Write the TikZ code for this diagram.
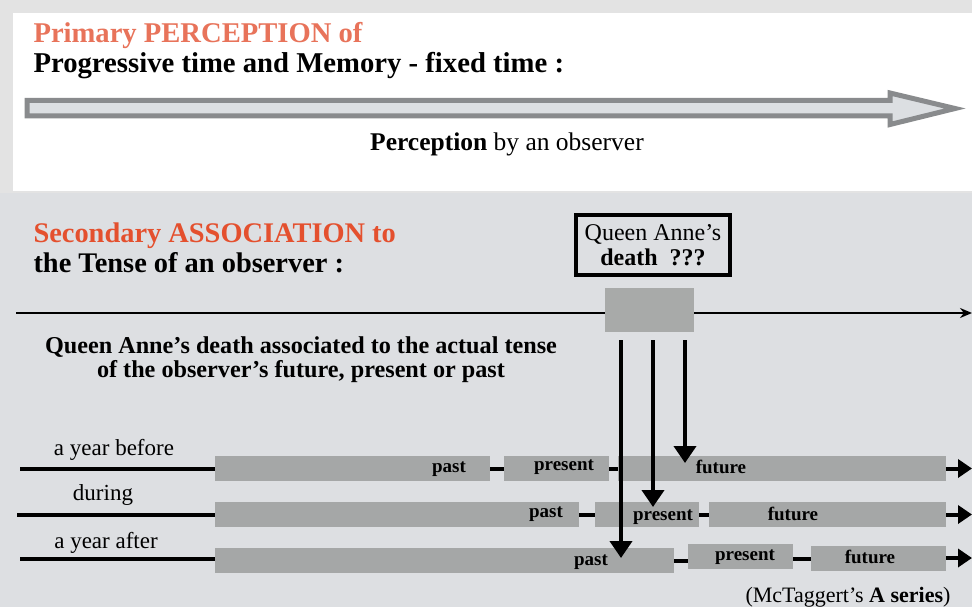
\documentclass[tikz,border=0pt]{standalone}
\usepackage{fontspec}
\setmainfont{Liberation Serif}
\usetikzlibrary{arrows.meta}
\definecolor{tp}{HTML}{E8735A}
\definecolor{ts}{HTML}{E4502E}
\definecolor{bg}{HTML}{DDDFE2}
\definecolor{fr}{HTML}{E3E3E3}
\definecolor{br}{HTML}{A5A7A7}
\definecolor{ev}{HTML}{A8AAA9}
\definecolor{ao}{HTML}{898B8D}
\definecolor{af}{HTML}{DCDFE2}
\newcommand{\fs}[1]{\fontsize{#1}{#1}\selectfont}

\begin{document}
\begin{tikzpicture}[x=1pt,y=-1pt,
    bar/.style={fill=br,minimum height=25pt,inner sep=0pt,anchor=west},
    link/.style={line width=4pt},
    lbl/.style={font=\fs{19}\bfseries,anchor=base},
    row/.style={font=\fs{23},anchor=base},
    down/.style={line width=4pt,-{Triangle[length=17pt,width=22pt]}},
    fwd/.style={line width=4pt,-{Triangle[length=14pt,width=18pt]}}]
  \useasboundingbox (0,0) rectangle (972,607);
  % panels
  \fill[fr] (0,0) rectangle (972,193);
  \fill[white] (13,13) rectangle (972,191);
  \fill[bg] (0,193) rectangle (972,607);
  % primary perception
  \node[anchor=base west,text=tp,font=\fs{28.6}\bfseries] (t1) at (30,43) {Primary PERCEPTION of};
  \node[anchor=base west,font=\fs{28.7}\bfseries] (t2) at (30,73) {Progressive time and Memory - fixed time :};
  \draw[ao,fill=af,line width=5pt] (27,100.5) -- (890,100.5) -- (890,93) -- (955,108.5)
    -- (890,124.5) -- (890,116) -- (27,116) -- cycle;
  \node[anchor=base,font=\fs{25.5}] (obs) at (507,150) {\textbf{Perception} by an observer};
  % secondary association
  \node[anchor=base west,text=ts,font=\fs{28.4}\bfseries] (t3) at (30,242) {Secondary ASSOCIATION to};
  \node[anchor=base west,font=\fs{28.4}\bfseries] (t4) at (30,272) {the Tense of an observer :};
  \node[draw,line width=4pt,minimum width=154pt,minimum height=60pt,align=center,font=\fs{24}] (qa) at (653,245)
    {Queen Anne’s\\[1pt]\textbf{death\ \ ???}};
  \coordinate (l0) at (16,313);
  \coordinate (l1) at (972,313);
  \draw[line width=2pt,-{Stealth[length=12pt,width=10pt]}] (l0) -- (l1);
  \node[fill=ev,minimum width=89pt,minimum height=44pt,inner sep=0pt] (ev) at (649.5,310) {};
  \node[align=center,font=\fs{24.2}\bfseries] (as) at (301,360)
    {Queen Anne’s death associated to the actual tense\\of the observer’s future, present or past};
  % rows
  \node[row] (r1) at (114,455) {a year before};
  \node[row] (r2) at (103,500) {during};
  \node[row] (r3) at (106,548) {a year after};
  \node[bar,minimum width=275pt] (pa1) at (215,468.5) {};
  \node[bar,minimum width=105pt] (pr1) at (504,468.5) {};
  \node[bar,minimum width=328pt] (fu1) at (618,468.5) {};
  \node[bar,minimum width=364pt] (pa2) at (215,514.5) {};
  \node[bar,minimum width=104pt] (pr2) at (595,514.5) {};
  \node[bar,minimum width=237pt] (fu2) at (709,514.5) {};
  \node[bar,minimum width=459pt] (pa3) at (215,560.5) {};
  \node[bar,minimum width=105pt] (pr3) at (688,556) {};
  \node[bar,minimum width=135pt] (fu3) at (811,558.5) {};
  \coordinate (s1) at (20,468.5);
  \coordinate (s2) at (17,514.5);
  \coordinate (s3) at (20,559);
  \draw[link] (s1) -- (pa1.west);
  \draw[link] (s2) -- (pa2.west);
  \draw[link] (s3) -- (s3 -| pa3.west);
  \draw[link] (pa1.east) -- (pr1.west);
  \draw[link] (pr1.east) -- (fu1.west);
  \draw[link] (pa2.east) -- (pr2.west);
  \draw[link] (pr2.east) -- (fu2.west);
  \draw[link] (pa3.east) -- (pa3.east -| pr3.west);
  \draw[link] (pr3.east |- fu3.west) -- (fu3.west);
  \coordinate (e1) at (972,468.5);
  \coordinate (e2) at (972,514.5);
  \coordinate (e3) at (972,558);
  \draw[fwd] (fu1.east) -- (e1);
  \draw[fwd] (fu2.east) -- (e2);
  \draw[fwd] (fu3.east |- e3) -- (e3);
  \node[lbl] at (449,472) {past};
  \node[lbl] at (564,470) {present};
  \node[lbl] at (721,473) {future};
  \node[lbl] at (546,517) {past};
  \node[lbl] at (663,520) {present};
  \node[lbl] at (793,520) {future};
  \node[lbl] at (591,565) {past};
  \node[lbl] at (745,560) {present};
  \node[lbl] at (870,563) {future};
  % association arrows
  \coordinate (d1) at (621,558);
  \coordinate (d2) at (653,507);
  \coordinate (d3) at (685,463);
  \draw[down] (ev.south -| d1) ++(0,8) -- (d1);
  \draw[down] (ev.south -| d2) ++(0,8) -- (d2);
  \draw[down] (ev.south -| d3) ++(0,8) -- (d3);
  \node[anchor=base,font=\fs{22}] (mc) at (848,602) {(McTaggert’s \textbf{A series})};
\end{tikzpicture}
\end{document}
